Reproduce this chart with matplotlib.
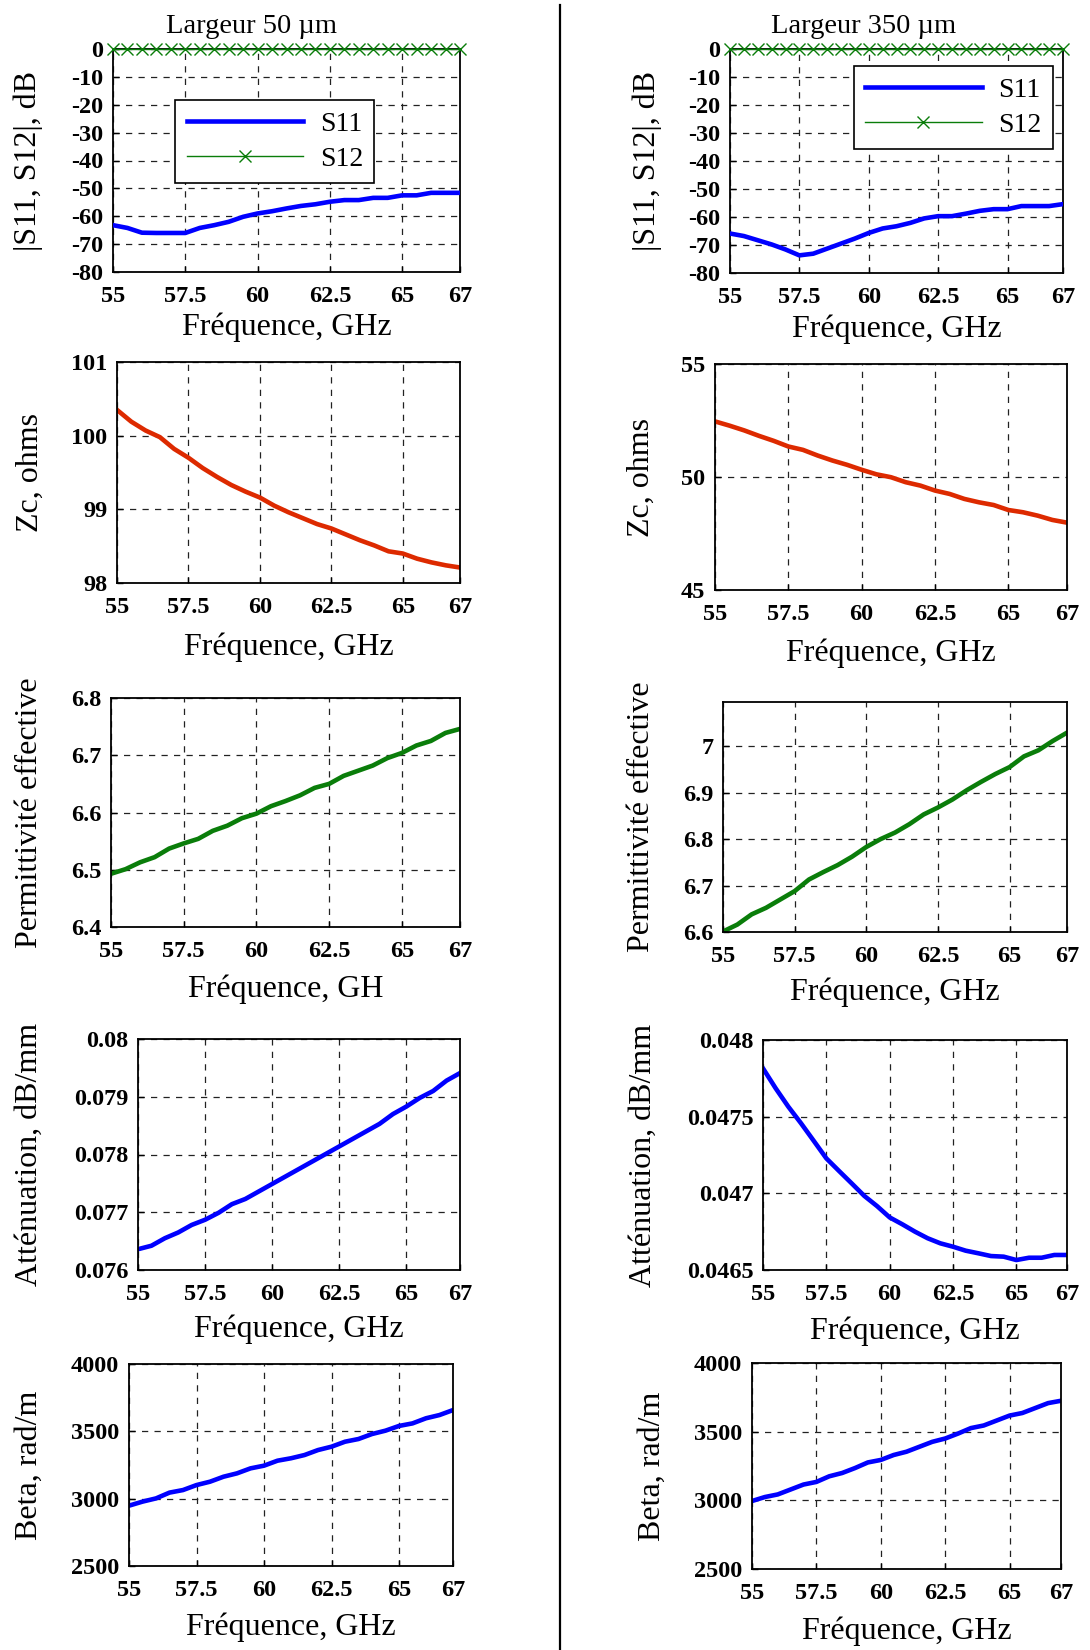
import matplotlib
matplotlib.use('Agg')
import matplotlib.pyplot as plt
from matplotlib.lines import Line2D

plt.rcParams['font.family'] = ['Liberation Serif', 'DejaVu Serif']
plt.rcParams['axes.unicode_minus'] = False

# ---------------- data ----------------
freq = [55.0, 55.5, 56.0, 56.5, 57.0, 57.5, 58.0, 58.5, 59.0, 59.5, 60.0, 60.5,
        61.0, 61.5, 62.0, 62.5, 63.0, 63.5, 64.0, 64.5, 65.0, 65.5, 66.0, 66.5, 67.0]

s11_50 = [-63.2, -64.2, -65.9, -66.0, -66.0, -66.0, -64.2, -63.2, -62.0, -60.2, -59.0, -58.2,
          -57.2, -56.3, -55.7, -54.8, -54.2, -54.2, -53.4, -53.4, -52.5, -52.5, -51.6, -51.6, -51.6]
s12_50 = [0.0] * 25
s11_350 = [-65.9, -66.8, -68.3, -69.8, -71.6, -73.7, -73.1, -71.3, -69.5, -67.7, -65.7, -64.1,
           -63.3, -62.1, -60.5, -59.7, -59.7, -58.8, -57.8, -57.2, -57.2, -56.1, -56.1, -56.1, -55.4]
s12_350 = [0.0] * 25

zc_50 = [100.35, 100.19, 100.07, 99.98, 99.82, 99.70, 99.56, 99.44, 99.33, 99.24, 99.16, 99.05,
         98.96, 98.88, 98.80, 98.74, 98.66, 98.58, 98.51, 98.43, 98.40, 98.33, 98.28, 98.24, 98.21]
zc_350 = [52.46, 52.27, 52.06, 51.82, 51.60, 51.35, 51.20, 50.95, 50.73, 50.54, 50.32, 50.12,
          49.99, 49.77, 49.62, 49.40, 49.25, 49.03, 48.88, 48.76, 48.54, 48.44, 48.29, 48.10, 47.98]

eps_50 = [6.493, 6.501, 6.513, 6.522, 6.537, 6.546, 6.554, 6.568, 6.577, 6.590, 6.598, 6.611,
          6.620, 6.630, 6.643, 6.650, 6.664, 6.673, 6.682, 6.695, 6.704, 6.717, 6.725, 6.739, 6.746]
eps_350 = [6.601, 6.616, 6.638, 6.652, 6.670, 6.688, 6.713, 6.729, 6.744, 6.762, 6.783, 6.800,
           6.814, 6.832, 6.853, 6.868, 6.885, 6.905, 6.923, 6.940, 6.955, 6.978, 6.991, 7.011, 7.029]

att_50 = [0.07636, 0.07642, 0.07655, 0.07665, 0.07678, 0.07687, 0.07699, 0.07714, 0.07723,
          0.07736, 0.07749, 0.07762, 0.07775, 0.07788, 0.07801, 0.07814, 0.07827, 0.07840,
          0.07853, 0.07870, 0.07883, 0.07898, 0.07910, 0.07928, 0.07941]
att_350 = [0.047815, 0.047685, 0.047565, 0.047457, 0.047343, 0.047228, 0.047146, 0.047065,
           0.046983, 0.046917, 0.046843, 0.046798, 0.046750, 0.046707, 0.046674, 0.046652,
           0.046626, 0.046609, 0.046591, 0.046587, 0.046565, 0.046580, 0.046580, 0.046598, 0.046598]

beta_50 = [2948, 2978, 3002, 3045, 3064, 3101, 3126, 3163, 3188, 3225, 3245, 3282,
           3300, 3324, 3361, 3386, 3423, 3443, 3480, 3505, 3540, 3559, 3597, 3621, 3658]
beta_350 = [2995, 3024, 3043, 3079, 3115, 3134, 3175, 3199, 3235, 3276, 3294, 3330,
            3354, 3390, 3426, 3450, 3486, 3526, 3545, 3581, 3617, 3636, 3672, 3708, 3725]

x_ticks = [55, 57.5, 60, 62.5, 65, 67]
x_ticklabels = ['55', '57.5', '60', '62.5', '65', '67']

s_ticks = [0, -10, -20, -30, -40, -50, -60, -70, -80]
s_ticklabels = ['0', '-10', '-20', '-30', '-40', '-50', '-60', '-70', '-80']
zc50_ticks = [98, 99, 100, 101]
zc350_ticks = [45, 50, 55]
eps50_ticks = [6.4, 6.5, 6.6, 6.7, 6.8]
eps50_labels = ['6.4', '6.5', '6.6', '6.7', '6.8']
eps350_ticks = [6.6, 6.7, 6.8, 6.9, 7.0]
eps350_labels = ['6.6', '6.7', '6.8', '6.9', '7']
att50_ticks = [0.076, 0.077, 0.078, 0.079, 0.080]
att50_labels = ['0.076', '0.077', '0.078', '0.079', '0.08']
att350_ticks = [0.0465, 0.047, 0.0475, 0.048]
att350_labels = ['0.0465', '0.047', '0.0475', '0.048']
beta_ticks = [2500, 3000, 3500, 4000]

# ---------------- layout ----------------
W, H = 1090, 1650
fig = plt.figure(figsize=(W / 100, H / 100), dpi=100)


def place(xl, yt, xr, yb):
    return [xl / W, 1 - yb / H, (xr - xl) / W, (yb - yt) / H]


BLUE = '#0000ff'
RED = '#dd2a00'
GREEN = '#0a7d0a'
TICK_FS = 17.5
LAB_FS = 23


def style(ax, xlim, ylim, yticks, ylabels, ylabel, xlabel, ylab_x, xlab_top):
    ax.set_xlim(*xlim)
    ax.set_ylim(*ylim)
    ax.set_xticks(x_ticks)
    ax.set_xticklabels(x_ticklabels)
    ax.set_yticks(yticks)
    ax.set_yticklabels(ylabels)
    for lab in ax.get_xticklabels() + ax.get_yticklabels():
        lab.set_fontsize(TICK_FS)
        lab.set_fontweight('bold')
    ax.tick_params(axis='both', direction='in', length=4, width=1)
    ax.tick_params(axis='x', pad=10)
    ax.tick_params(axis='y', pad=7)
    ax.grid(True, linestyle=(0, (5, 5)), color='#222222', linewidth=0.9)
    for sp in ax.spines.values():
        sp.set_linewidth(1.3)
    ax.set_ylabel(ylabel, fontsize=LAB_FS)
    ax.set_xlabel(xlabel, fontsize=LAB_FS)
    pos = ax.get_position()
    ax.yaxis.set_label_coords(ylab_x / W, pos.y0 + pos.height / 2, transform=fig.transFigure)
    ax.xaxis.set_label_coords(pos.x0 + pos.width / 2, 1 - xlab_top / H, transform=fig.transFigure)


def add_legend(ax, anchor):
    leg = ax.legend(loc='upper left', bbox_to_anchor=anchor, fontsize=20, handlelength=4.2,
                    frameon=True, fancybox=False, edgecolor='black', framealpha=1,
                    borderpad=0.4, labelspacing=0.35, handletextpad=0.6, borderaxespad=0)
    leg.get_frame().set_linewidth(1.2)


xl = (55, 67)
xlab = 'Fréquence, GHz'

# Row 1: S parameters
ax1 = fig.add_axes(place(113, 49, 460, 272))
ax1.plot(freq, s11_50, color=BLUE, lw=3.3, label='S11', zorder=3)
ax1.plot(freq, s12_50, color=GREEN, lw=1.0, marker='x', ms=8, mew=1.0, label='S12',
         clip_on=False, zorder=4)
style(ax1, xl, (-80, 0), s_ticks, s_ticklabels, '|S11, S12|, dB', xlab, 43, 313)
add_legend(ax1, (0.18, 0.77))

ax2 = fig.add_axes(place(730, 49, 1063, 273))
ax2.plot(freq, s11_350, color=BLUE, lw=3.3, label='S11', zorder=3)
ax2.plot(freq, s12_350, color=GREEN, lw=1.0, marker='x', ms=8, mew=1.0, label='S12',
         clip_on=False, zorder=4)
style(ax2, xl, (-80, 0), s_ticks, s_ticklabels, '|S11, S12|, dB', xlab, 662, 315)
add_legend(ax2, (0.372, 0.924))

fig.text(252 / W, 1 - 33 / H, 'Largeur 50 µm', fontsize=20.5, ha='center', va='baseline')
fig.text(864 / W, 1 - 33 / H, 'Largeur 350 µm', fontsize=20.5, ha='center', va='baseline')

# Row 2: Zc
ax3 = fig.add_axes(place(117, 362, 460, 583))
ax3.plot(freq, zc_50, color=RED, lw=3.3)
style(ax3, xl, (98, 101), zc50_ticks, [str(v) for v in zc50_ticks], 'Zc, ohms', xlab, 45, 632)

ax4 = fig.add_axes(place(715, 364, 1067, 590))
ax4.plot(freq, zc_350, color=RED, lw=3.3)
style(ax4, xl, (45, 55), zc350_ticks, [str(v) for v in zc350_ticks], 'Zc, ohms', xlab, 656, 639)

# Row 3: permittivity
ax5 = fig.add_axes(place(111, 698, 460, 927))
ax5.plot(freq, eps_50, color=GREEN, lw=3.3)
style(ax5, xl, (6.4, 6.8), eps50_ticks, eps50_labels, 'Permittivité effective',
      'Fréquence, GH', 44, 975)

ax6 = fig.add_axes(place(723, 702, 1067, 932))
ax6.plot(freq, eps_350, color=GREEN, lw=3.3)
style(ax6, xl, (6.6, 7.095), eps350_ticks, eps350_labels, 'Permittivité effective',
      xlab, 656, 977)

# Row 4: attenuation
ax7 = fig.add_axes(place(138, 1039, 460, 1270))
ax7.plot(freq, att_50, color=BLUE, lw=3.3)
style(ax7, xl, (0.076, 0.080), att50_ticks, att50_labels, 'Atténuation, dB/mm', xlab, 44, 1315)

ax8 = fig.add_axes(place(763, 1040, 1067, 1270))
ax8.plot(freq, att_350, color=BLUE, lw=3.3)
style(ax8, xl, (0.0465, 0.048), att350_ticks, att350_labels, 'Atténuation, dB/mm',
      xlab, 658, 1317)

# Row 5: beta
ax9 = fig.add_axes(place(129, 1364, 453, 1566))
ax9.plot(freq, beta_50, color=BLUE, lw=3.3)
style(ax9, xl, (2500, 4000), beta_ticks, [str(v) for v in beta_ticks], 'Beta, rad/m', xlab, 44, 1612)

ax10 = fig.add_axes(place(752, 1363, 1061, 1569))
ax10.plot(freq, beta_350, color=BLUE, lw=3.3)
style(ax10, xl, (2500, 4000), beta_ticks, [str(v) for v in beta_ticks], 'Beta, rad/m',
      xlab, 667, 1617)

# separator line
fig.add_artist(Line2D([560 / W, 560 / W], [0, 1 - 5 / H], transform=fig.transFigure,
                      color='black', lw=1.6))

fig.savefig('out.png', dpi=100)
